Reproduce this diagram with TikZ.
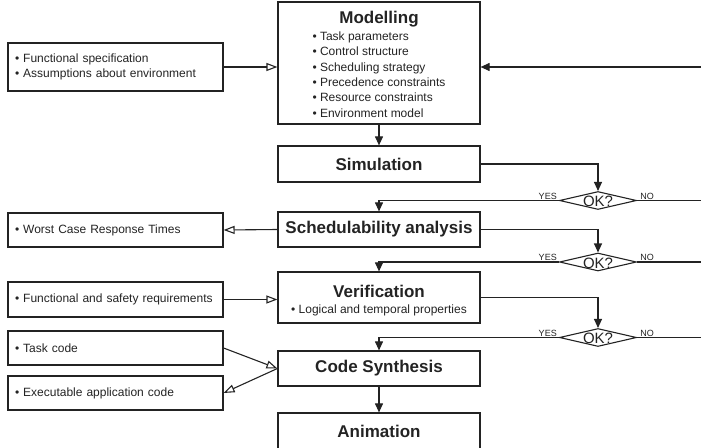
\documentclass[tikz,border=0pt]{standalone}
\usepackage{fontspec}
\setmainfont{Liberation Sans}
\usepackage{tikz}
\usetikzlibrary{shapes.geometric, arrows.meta, positioning}
\definecolor{InkGray}{RGB}{35, 35, 35}
\newcommand{\ttlfont}{\fontsize{17}{20}\selectfont\bfseries}
\newcommand{\txtfont}{\fontsize{12}{15.4}\selectfont}
\tikzset{
  mainbox/.style={rectangle, draw=InkGray, line width=1.2pt,
    minimum width=202pt, align=center, text=InkGray, inner sep=2pt},
  sidebox/.style={rectangle, draw=InkGray, line width=1.2pt,
    minimum width=215pt, text width=201pt, inner xsep=7pt,
    align=left, font=\txtfont, text=InkGray},
  okdia/.style={diamond, draw=InkGray, line width=1.1pt, inner sep=0pt,
    minimum width=77pt, minimum height=18pt},
  oktxt/.style={font=\fontsize{15}{17}\selectfont, text=InkGray, inner sep=0pt},
  yn/.style={font=\fontsize{9}{10}\selectfont, text=InkGray, inner sep=1pt},
  arr/.style={-{Triangle[length=9pt, width=8pt]}, line width=1.1pt, color=InkGray},
  oarr/.style={-{Triangle[open, length=11pt, width=8pt]}, line width=1.1pt, color=InkGray},
  ln/.style={line width=1.1pt, color=InkGray},
}
\begin{document}
\begin{tikzpicture}[x=1pt, y=-1pt]
  \useasboundingbox (0,0) rectangle (701,447);
  \clip (0,0) rectangle (701,447);
  % main flow
  \node[mainbox, minimum height=118pt] (mod) at (379,63)
    {{\ttlfont\rule{0pt}{20pt}Modelling}\\[1pt]
     \txtfont\begin{tabular}{@{}l@{}}
       \textbullet{} Task parameters\\
       \textbullet{} Control structure\\
       \textbullet{} Scheduling strategy\\
       \textbullet{} Precedence constraints\\
       \textbullet{} Resource constraints\\
       \textbullet{} Environment model
     \end{tabular}};
  \node[mainbox, minimum height=36pt] (sim) at (379,164) {\ttlfont Simulation};
  \node[mainbox, minimum height=35pt] (sched) at (379,229.5)
    {\ttlfont Schedulability analysis};
  \node[mainbox, minimum height=51pt] (ver) at (379,297.5)
    {{\ttlfont\rule{0pt}{18pt}Verification}\\[4pt]
     \txtfont\textbullet{} Logical and temporal properties};
  \node[mainbox, minimum height=35pt] (syn) at (379,368.5) {\ttlfont Code Synthesis};
  \node[mainbox, minimum height=36pt] (anim) at (379,431) {\ttlfont Animation};
  % side boxes
  \node[sidebox, minimum height=48pt] (spec) at (115.5,67)
    {\textbullet{} Functional specification\\
     \textbullet{} Assumptions about environment};
  \node[sidebox, minimum height=34pt] (wcrt) at (115.5,230)
    {\textbullet{} Worst Case Response Times};
  \node[sidebox, minimum height=35pt] (req) at (115.5,299.5)
    {\textbullet{} Functional and safety requirements};
  \node[sidebox, minimum height=34pt] (tcode) at (115.5,348)
    {\textbullet{} Task code};
  \node[sidebox, minimum height=34pt] (exe) at (115.5,393)
    {\textbullet{} Executable application code};
  % decisions
  \node[okdia] (ok1) at (598,200.5) {};
  \node[okdia] (ok2) at (598,262) {};
  \node[okdia] (ok3) at (598,337.5) {};
  \foreach \d in {ok1, ok2, ok3} {
    \node[oktxt] (\d t) at ([yshift=-1pt]\d) {OK?};
    \node[yn, above left=0pt and 1pt of \d.west] (\d y) {YES};
    \node[yn, above right=0pt and 2pt of \d.east] (\d n) {NO};
  }
  \coordinate (fb) at (706,67);
  % connectors
  \draw[arr] (mod) -- (sim);
  \draw[arr] (syn) -- (anim);
  \draw[arr] (sim.east) -| (ok1.north);
  \draw[arr] (sched.east) -| (ok2.north);
  \draw[arr] (ver.east) -| (ok3.north);
  \draw[arr] (ok1.west) -| (sched.north);
  \draw[arr] (ok2.west) -| (ver.north);
  \draw[arr] (ok3.west) -| (syn.north);
  \draw[ln] (ok1.east) -- (ok1.east -| fb);
  \draw[ln] (ok2.east) -- (ok2.east -| fb);
  \draw[arr] (ok3.east) -| (fb) -- (fb -| mod.east);
  \draw[oarr] (spec.east) -- (spec.east -| mod.west);
  \draw[oarr] (sched.west) -- (wcrt.east);
  \draw[oarr] (req.east) -- (req.east -| ver.west);
  \draw[oarr] (tcode.east) -- (syn.west);
  \draw[oarr] (syn.west) -- (exe.east);
\end{tikzpicture}
\end{document}
